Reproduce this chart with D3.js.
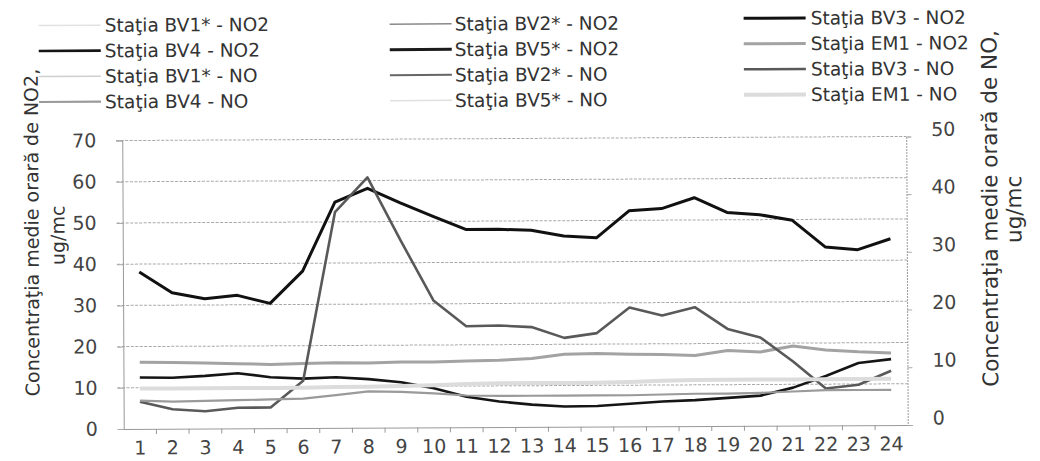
<!DOCTYPE html>
<html>
<head>
<meta charset="utf-8">
<script src="https://cdnjs.cloudflare.com/ajax/libs/d3/7.8.5/d3.min.js"></script>
<style>
  body { margin: 0; background: #fff; }
  svg { display: block; font-family: 'DejaVu Sans', sans-serif; }
</style>
</head>
<body>
<div id="chart"></div>
<script>
// hours of the day (x categories)
const hours = ['1', '2', '3', '4', '5', '6', '7', '8', '9', '10', '11', '12',
    '13', '14', '15', '16', '17', '18', '19', '20', '21', '22', '23', '24'];

// axis ticks
const leftTicks = [0, 10, 20, 30, 40, 50, 60, 70];
const rightTicks = [0, 10, 20, 30, 40, 50];

// NO2 series, ug/mc (left axis)
const bv1No2 = [];
const bv2No2 = [];
const bv3No2 = [38.1, 33.0, 31.5, 32.3, 30.3, 38.1, 54.8, 58.1, 54.5, 51.2, 48.0, 48.0,
    47.7, 46.3, 45.8, 52.3, 52.8, 55.4, 51.8, 51.2, 49.8, 43.3, 42.6, 45.2];
const bv4No2 = [12.5, 12.4, 12.8, 13.4, 12.4, 12.0, 12.3, 11.8, 11.0, 9.5, 7.4, 6.2,
    5.4, 4.9, 5.0, 5.5, 6.0, 6.3, 6.8, 7.3, 9.2, 12.0, 15.1, 16.0];
const bv5No2 = [];
const em1No2 = [16.2, 16.1, 15.9, 15.7, 15.5, 15.7, 15.8, 15.7, 15.9, 15.9, 16.1, 16.2,
    16.6, 17.6, 17.7, 17.5, 17.4, 17.1, 18.3, 17.9, 19.3, 18.3, 17.8, 17.5];

// NO series, ug/mc (right axis)
const bv1No = [];
const bv2No = [];
const bv3No = [4.7, 3.4, 3.0, 3.6, 3.6, 8.2, 37.4, 43.4, 32.5, 22.0, 17.5, 17.6,
    17.3, 15.4, 16.2, 20.6, 19.2, 20.6, 16.8, 15.3, 11.1, 6.4, 7.0, 9.4];
const bv4No = [4.9, 4.7, 4.8, 4.9, 5.0, 5.1, 5.7, 6.3, 6.2, 5.9, 5.5, 5.4,
    5.4, 5.4, 5.4, 5.4, 5.5, 5.6, 5.6, 5.7, 5.9, 6.1, 6.1, 6.1];
const bv5No = [];
const em1No = [7.0, 7.0, 7.0, 7.0, 7.0, 7.0, 7.1, 7.1, 7.2, 7.3, 7.5, 7.6,
    7.6, 7.6, 7.6, 7.7, 7.9, 8.0, 8.0, 8.0, 8.0, 8.0, 8.0, 8.0];

const series = [
    { name: 'Staţia BV1* - NO2', values: bv1No2, axis: 'left', color: '#e2e2e2', width: 1.5 },
    { name: 'Staţia BV2* - NO2', values: bv2No2, axis: 'left', color: '#8a8a8a', width: 1.5 },
    { name: 'Staţia BV3 - NO2', values: bv3No2, axis: 'left', color: '#111', width: 3 },
    { name: 'Staţia BV4 - NO2', values: bv4No2, axis: 'left', color: '#151515', width: 2.6 },
    { name: 'Staţia BV5* - NO2', values: bv5No2, axis: 'left', color: '#1a1a1a', width: 3 },
    { name: 'Staţia EM1 - NO2', values: em1No2, axis: 'left', color: '#a3a3a3', width: 3 },
    { name: 'Staţia BV1* - NO', values: bv1No, axis: 'right', color: '#cfcfcf', width: 1.5 },
    { name: 'Staţia BV2* - NO', values: bv2No, axis: 'right', color: '#666', width: 2 },
    { name: 'Staţia BV3 - NO', values: bv3No, axis: 'right', color: '#595959', width: 2.6 },
    { name: 'Staţia BV4 - NO', values: bv4No, axis: 'right', color: '#9a9a9a', width: 2.2 },
    { name: 'Staţia BV5* - NO', values: bv5No, axis: 'right', color: '#e0e0e0', width: 1.5 },
    { name: 'Staţia EM1 - NO', values: em1No, axis: 'right', color: '#dcdcdc', width: 4 },
];

const width = 1040;
const height = 461;
const plot = { left: 123, right: 907, top: 138.5, bottom: 427 };
const tickFont = 19;

const svg = d3.select('#chart')
    .append('svg')
    .attr('width', width)
    .attr('height', height);

// the scanned original is tilted a little
const g = svg.append('g')
    .attr('transform', 'rotate(-0.3, 515, 285)');

const x = d3.scaleBand()
    .domain(hours)
    .range([plot.left, plot.right]);

const yLeft = d3.scaleLinear()
    .domain([0, 70])
    .range([plot.bottom, plot.top]);

const yRight = d3.scaleLinear()
    .domain([0, 50])
    .range([plot.bottom, plot.top]);

// gridlines
g.append('g')
    .selectAll('line')
    .data(leftTicks.filter(d => d > 0))
    .join('line')
    .attr('x1', plot.left - 6)
    .attr('x2', plot.right)
    .attr('y1', d => yLeft(d))
    .attr('y2', d => yLeft(d))
    .attr('stroke', '#a8a8a8')
    .attr('stroke-width', 1)
    .attr('stroke-dasharray', '3,1.5');

// left axis
const leftAxis = g.append('g')
    .attr('transform', `translate(${plot.left},0)`)
    .call(d3.axisLeft(yLeft).tickValues(leftTicks).tickSize(6).tickPadding(20));
leftAxis.select('.domain').attr('stroke', '#999');
leftAxis.selectAll('.tick line').attr('stroke', '#aaa');
leftAxis.selectAll('.tick text')
    .attr('font-size', tickFont)
    .attr('fill', '#444')
    .attr('font-family', 'DejaVu Sans');

// right axis
const rightAxis = g.append('g')
    .attr('transform', `translate(${plot.right},0)`)
    .call(d3.axisRight(yRight).tickValues(rightTicks).tickSize(5).tickPadding(20));
rightAxis.select('.domain').attr('stroke', '#999').attr('stroke-dasharray', '2,1');
rightAxis.selectAll('.tick line').attr('stroke', '#aaa');
rightAxis.selectAll('.tick text')
    .attr('font-size', tickFont)
    .attr('fill', '#444')
    .attr('dy', '-0.05em')
    .attr('font-family', 'DejaVu Sans');

// x axis: ticks between categories
const xAxis = g.append('g')
    .attr('transform', `translate(0,${plot.bottom})`)
    .call(d3.axisBottom(x).tickSize(0).tickPadding(12));
xAxis.select('.domain').attr('stroke', '#999');
xAxis.selectAll('.tick text')
    .attr('font-size', 19)
    .attr('fill', '#444')
    .attr('font-family', 'DejaVu Sans');
xAxis.append('g')
    .selectAll('line')
    .data(hours.slice(1))
    .join('line')
    .attr('x1', d => x(d))
    .attr('x2', d => x(d))
    .attr('y1', 0)
    .attr('y2', 5)
    .attr('stroke', '#999');

// lines
const lineFor = s => d3.line()
    .x((d, i) => x(hours[i]) + x.bandwidth() / 2)
    .y(d => (s.axis === 'left' ? yLeft : yRight)(d));

g.append('g')
    .selectAll('path')
    .data(series.filter(s => s.values.length))
    .join('path')
    .attr('d', s => lineFor(s)(s.values))
    .attr('fill', 'none')
    .attr('stroke', s => s.color)
    .attr('stroke-width', s => s.width)
    .attr('stroke-linejoin', 'round');

// legend, 3 columns x 4 rows
const legendCol = [
    { line: 40, text: 106, y: 23 },
    { line: 391, text: 456, y: 23.5 },
    { line: 745, text: 812, y: 19.5 },
];
const legend = g.append('g')
    .selectAll('g')
    .data(series)
    .join('g')
    .attr('transform', (s, i) => {
        const c = legendCol[i % 3];
        return `translate(0,${c.y + Math.floor(i / 3) * 25.5})`;
    });

legend.append('line')
    .attr('x1', (s, i) => legendCol[i % 3].line)
    .attr('x2', (s, i) => legendCol[i % 3].line + 62)
    .attr('stroke', s => s.color)
    .attr('stroke-width', s => s.width);

legend.append('text')
    .attr('x', (s, i) => legendCol[i % 3].text)
    .attr('dy', '0.36em')
    .attr('font-size', 18.5)
    .attr('fill', '#333')
    .text(s => s.name);

// axis titles
const leftTitle = g.append('g')
    .attr('font-size', 19)
    .attr('fill', '#333')
    .attr('text-anchor', 'middle');
leftTitle.append('text')
    .attr('transform', 'translate(32,230) rotate(-90)')
    .attr('dy', '0.36em')
    .text('Concentraţia medie orară de NO2,');
leftTitle.append('text')
    .attr('transform', 'translate(58,233) rotate(-90)')
    .attr('dy', '0.36em')
    .text('ug/mc');

const rightTitle = g.append('g')
    .attr('font-size', 21.5)
    .attr('fill', '#333')
    .attr('text-anchor', 'middle');
rightTitle.append('text')
    .attr('transform', 'translate(990,211) rotate(-90)')
    .attr('dy', '0.36em')
    .text('Concentraţia medie orară de NO,');
rightTitle.append('text')
    .attr('transform', 'translate(1014,212) rotate(-90)')
    .attr('dy', '0.36em')
    .text('ug/mc');
</script>
</body>
</html>
